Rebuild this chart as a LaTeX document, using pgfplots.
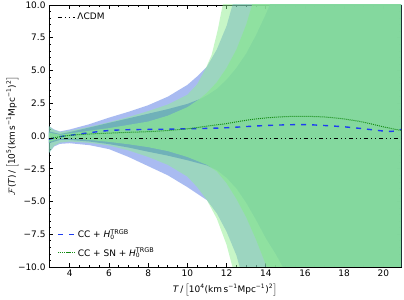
\documentclass[border=0pt]{standalone}
\usepackage{pgfplots}
\pgfplotsset{compat=1.18}
\usepackage{fontspec}
\setmainfont{DejaVu Sans}
\definecolor{bA}{RGB}{65,105,225}
\definecolor{gA}{RGB}{144,238,144}
\definecolor{gB}{RGB}{140,230,150}
\definecolor{lblue}{RGB}{30,60,240}
\definecolor{lgreen}{RGB}{20,140,20}
\pgfplotsset{
  common/.style={
    scale only axis, width=352bp, height=262bp,
    xmin=2.94, xmax=20.9, ymin=-10, ymax=10,
  },
}
\begin{document}
\begin{tikzpicture}[font=\fontsize{9}{11}\selectfont]
\begin{axis}[name=ax, common,
  tick align=inside,
  major tick length=4bp, minor tick length=2bp,
  xtick={4,6,8,10,12,14,16,18,20},
  xticklabels={4,6,8,10,12,14,16,18,20},
  xticklabel style={inner sep=1bp, yshift=-2bp},
  ytick={-10,-7.5,-5,-2.5,0,2.5,5,7.5,10},
  yticklabels={−10.0,−7.5,−5.0,−2.5,0.0,2.5,5.0,7.5,10.0},
  minor x tick num=3, minor y tick num=4,
  axis line style={line width=0.8bp},
  every tick/.style={black, line width=0.6bp},
  xlabel={\textit{T}\,/\,$\bigl[$10\textsuperscript{4}(km\,s\textsuperscript{−1}Mpc\textsuperscript{−1})\textsuperscript{2}$\bigr]$},
  ylabel={$\mathcal{F}$(\textit{T})\,/\,$\bigl[$10\textsuperscript{5}(km\,s\textsuperscript{−1}Mpc\textsuperscript{−1})\textsuperscript{2}$\bigr]$},
  xlabel style={at={(axis description cs:0.5,-0.064)}, anchor=north, inner sep=0pt},
  ylabel style={at={(axis description cs:-0.104,0.5)}, anchor=center, inner sep=0pt},
  legend style={at={(0.015,0.02)}, anchor=south west, draw=none, fill=none, row sep=4bp},
  legend cell align=left,
]
% blue 2 sigma
\addplot[fill=bA, fill opacity=0.45, draw=none, forget plot] coordinates {
(2.94,0.75) (3.2,0.5) (3.5,0.35) (4,0.5) (5,0.9) (6,1.4) (7,1.85) (8,2.35) (9,3.0) (10,3.9) (10.5,4.55) (11,5.3) (11.5,6.6) (12,8.4) (12.3,10) (12.6,11.8) (13,15) (20.9,15)
(20.9,-15) (13.3,-15) (12.9,-11.2) (12.67,-10) (12.5,-9.1) (12,-7.3) (11.5,-5.9) (11,-4.9) (10.5,-4.4) (10,-3.9) (9,-3.0) (8,-2.3) (7,-1.6) (6,-1.0) (5,-0.7) (4,-0.55) (3.5,-0.6) (3.2,-0.8) (2.94,-1.3)
} -- cycle;
% blue 1 sigma
\addplot[fill=bA, fill opacity=0.85, draw=none, forget plot] coordinates {
(2.94,0.35) (3.5,0.15) (4,0.3) (5,0.65) (6,1.0) (7,1.35) (8,1.7) (9,2.05) (10,2.45) (10.6,2.8) (11,3.1) (11.5,3.6) (12,4.3) (12.5,5.2) (13,6.3) (13.5,7.7) (14,9.3) (14.2,10) (14.5,11.3) (15.5,15) (20.9,15)
(20.9,-15) (16,-15) (15.2,-11) (14.87,-10) (14.5,-9.0) (14,-7.8) (13.5,-6.4) (13,-5.1) (12.5,-4.0) (12,-3.2) (11.5,-2.6) (11,-2.25) (10,-1.85) (9,-1.5) (8,-1.2) (7,-0.88) (6,-0.62) (5,-0.42) (4,-0.3) (3.5,-0.3) (2.94,-0.55)
} -- cycle;
% green 2 sigma
\addplot[fill=gA, fill opacity=0.5, draw=none, forget plot] coordinates {
(2.94,0.75) (3.2,0.45) (3.5,0.3) (4,0.4) (5,0.7) (6,1.05) (7,1.45) (8,1.9) (9,2.4) (10,3.15) (10.5,3.95) (10.95,5.2) (11.24,6.2) (11.55,8.1) (11.8,10) (12.1,12) (12.5,15) (20.9,15)
(20.9,-15) (13,-15) (12.6,-12) (12.3,-10) (12,-8.3) (11.5,-6.3) (11,-4.9) (10.5,-3.9) (10,-3.1) (9,-2.2) (8,-1.6) (7,-1.1) (6,-0.72) (5,-0.52) (4,-0.42) (3.5,-0.5) (3.2,-0.75) (2.94,-1.3)
} -- cycle;
% green 1 sigma
\addplot[fill=gB, fill opacity=0.75, draw=none, forget plot] coordinates {
(2.94,0.25) (3.5,0.1) (4,0.2) (5,0.4) (6,0.6) (7,0.85) (8,1.1) (9,1.55) (10,2.2) (10.6,2.8) (11,3.3) (11.5,4.1) (12,5.2) (12.5,6.6) (13,8.5) (13.3,10) (13.6,11.8) (14.2,15) (20.9,15)
(20.9,-15) (15,-15) (14.3,-11) (14.05,-10) (13.5,-7.9) (13,-6.2) (12.5,-4.8) (12,-3.6) (11.5,-2.7) (11,-2.2) (10,-1.6) (9,-1.15) (8,-0.85) (7,-0.63) (6,-0.45) (5,-0.3) (4,-0.2) (3.5,-0.2) (2.94,-0.45)
} -- cycle;
% best fits
\addplot[lblue, line width=1.4bp, dash pattern=on 5bp off 6bp, smooth] coordinates {
(2.94,-0.25) (3.5,-0.05) (4,0.05) (5,0.25) (6,0.42) (7,0.48) (8,0.5) (9,0.52) (10,0.55) (11,0.58) (12,0.63) (13,0.72) (14,0.8) (15,0.85) (16,0.87) (17,0.8) (18,0.7) (19,0.55) (20,0.38) (20.5,0.36) (20.9,0.5)
};
\addlegendentry{CC + \textit{H}\rlap{\textsubscript{0}}\textsuperscript{\fontsize{6.5}{7}\selectfont TRGB}}
\addplot[lgreen, line width=1bp, dash pattern=on 1bp off 1bp, smooth] coordinates {
(2.94,-0.2) (4,0.05) (5,0.15) (6,0.22) (7,0.28) (8,0.33) (9,0.42) (10,0.55) (11,0.75) (12,0.95) (13,1.2) (14,1.38) (15,1.48) (16,1.5) (17,1.45) (18,1.3) (19,1.05) (20,0.7) (20.9,0.42)
};
\addlegendentry{CC + SN + \textit{H}\rlap{\textsubscript{0}}\textsuperscript{\fontsize{6.5}{7}\selectfont TRGB}}
\end{axis}
\begin{axis}[common, hide axis,
  legend style={at={(0.015,0.985)}, anchor=north west, draw=none, fill=none},
  legend cell align=left]
\addplot[black, line width=1bp, dash pattern=on 4bp off 3bp on 1bp off 3bp on 1bp off 3bp] coordinates {(2.94,-0.22) (20.9,-0.22)};
\addlegendentry{ΛCDM}
\end{axis}
\pgfresetboundingbox
\path[use as bounding box] ([shift={(-49bp,-33bp)}]ax.south west) rectangle ([shift={(3bp,5bp)}]ax.north east);
\end{tikzpicture}
\end{document}
